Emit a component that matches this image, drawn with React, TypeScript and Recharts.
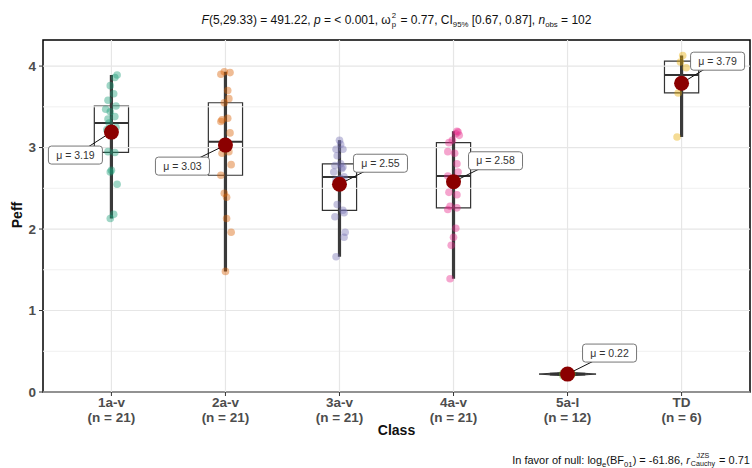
import { ComposedChart, XAxis, YAxis, Scatter, Area, ReferenceLine, ReferenceArea } from 'recharts';

const classes = ['1a-v', '2a-v', '3a-v', '4a-v', '5a-l', 'TD'];
const counts = [21, 21, 21, 21, 12, 6];
const means = [3.19, 3.03, 2.55, 2.58, 0.22, 3.79];
const q1 = [2.94, 2.66, 2.23, 2.26, 0.21, 3.67];
const medians = [3.3, 3.07, 2.64, 2.65, 0.22, 3.89];
const q3 = [3.51, 3.55, 2.8, 3.06, 0.23, 4.06];
const colors = ['#1B9E77', '#D95F02', '#7570B3', '#E7298A', '#66A61E', '#E6AB02'];
const yTicks = [0, 1, 2, 3, 4];
const yMinor = [0.5, 1.5, 2.5, 3.5];

// [horizontal jitter in category units, Peff]
const pts1a = [
  [-0.01, 2.13], [0.02, 2.18], [0.05, 2.55], [-0.01, 2.7], [0.0, 2.72], [0.03, 2.94], [-0.03, 2.95],
  [0.01, 3.15], [-0.04, 3.22], [0.04, 3.25], [-0.02, 3.3], [-0.03, 3.35], [0.03, 3.38], [-0.01, 3.44],
  [-0.05, 3.47], [0.04, 3.51], [-0.03, 3.58], [0.02, 3.66], [-0.01, 3.76], [0.03, 3.86], [0.05, 3.89],
];
const pts2a = [
  [0.0, 1.48], [0.05, 1.96], [0.01, 2.13], [0.01, 2.39], [-0.01, 2.44], [-0.04, 2.66], [0.05, 2.79],
  [0.03, 2.95], [-0.03, 2.93], [0.02, 3.03], [-0.02, 3.07], [0.04, 3.18], [-0.04, 3.32], [-0.03, 3.34],
  [0.02, 3.36], [-0.01, 3.55], [0.03, 3.6], [0.02, 3.7], [-0.04, 3.9], [0.04, 3.92], [-0.01, 3.93],
];
const pts3a = [
  [-0.03, 1.66], [0.04, 1.9], [0.05, 1.96], [-0.04, 2.15], [0.04, 2.2], [0.03, 2.23], [-0.02, 2.3],
  [0.02, 2.55], [-0.03, 2.6], [0.01, 2.62], [0.04, 2.64], [-0.05, 2.7], [0.02, 2.74], [0.03, 2.76],
  [-0.04, 2.78], [0.01, 2.8], [-0.02, 2.9], [-0.03, 2.98], [0.03, 2.98], [0.01, 3.04], [0.0, 3.09],
];
const pts4a = [
  [-0.03, 1.39], [-0.02, 1.8], [0.0, 1.9], [0.02, 2.01], [-0.05, 2.24], [0.03, 2.26], [-0.03, 2.28],
  [0.03, 2.42], [-0.04, 2.45], [0.02, 2.55], [-0.05, 2.65], [0.04, 2.7], [0.03, 2.8], [0.01, 2.93],
  [-0.05, 2.95], [-0.04, 3.06], [-0.01, 3.09], [0.05, 3.15], [0.02, 3.17], [0.04, 3.19], [0.03, 3.2],
];
const pts5a = [
  [-0.04, 0.2], [0.03, 0.21], [-0.02, 0.21], [0.01, 0.22], [-0.03, 0.22], [0.04, 0.22], [0.0, 0.22],
  [-0.01, 0.22], [0.02, 0.23], [-0.04, 0.23], [0.03, 0.23], [0.0, 0.24],
];
const ptsTD = [[-0.04, 3.13], [-0.03, 3.67], [-0.02, 3.8], [0.04, 3.98], [-0.01, 4.05], [0.01, 4.13]];
const groups = [pts1a, pts2a, pts3a, pts4a, pts5a, ptsTD];

// violin outline for 5a-l: [offset from category, low, high]
const violin5a = [
  [-0.25, 0.22, 0.22], [-0.18, 0.213, 0.227], [-0.1, 0.206, 0.234], [0, 0.198, 0.242],
  [0.1, 0.206, 0.234], [0.18, 0.213, 0.227], [0.25, 0.22, 0.22],
];

// label box offsets from the mean point (px)
const labelOffsets = [[-36, 23], [-43, 21], [41, -21], [42, -21], [42, -21], [36, -22]];

const font = '"Liberation Sans", Arial, sans-serif';
const boxHalf = 0.15;

const meanData = means.map((m, i) => ({ x: i + 1, y: m, i }));
const lensData = violin5a.map(([dx, lo, hi]) => ({ x: 5 + dx, band: [lo, hi] }));

const MeanMark = (props: any) => {
  const { cx, cy, payload } = props;
  const [ox, oy] = labelOffsets[payload.i];
  const bx = cx + ox;
  const by = cy + oy;
  return (
    <g>
      <line x1={cx} y1={cy} x2={bx} y2={by} stroke="#111" strokeWidth={1} />
      <circle cx={cx} cy={cy} r={7.5} fill="#8B0000" />
      <rect x={bx - 27} y={by - 9} width={54} height={18} rx={3} fill="#fff" stroke="#666" strokeWidth={0.9} />
      <text x={bx} y={by} dy="0.35em" textAnchor="middle" fontSize={10.5} fill="#333" fontFamily={font}>
        {'\u03bc = ' + means[payload.i].toFixed(2)}
      </text>
    </g>
  );
};

const ClassTick = (props: any) => {
  const { x, y, payload } = props;
  const i = payload.value - 1;
  return (
    <text x={x} y={y} textAnchor="middle" fill="#4D4D4D" fontWeight="bold" fontSize={13.5} fontFamily={font}>
      <tspan x={x} dy="0.7em">{classes[i]}</tspan>
      <tspan x={x} dy="1.1em">{'(n = ' + counts[i] + ')'}</tspan>
    </text>
  );
};

const Stack = ({ sup, sub }: { sup: string; sub: string }) => (
  <span
    style={{
      display: 'inline-flex',
      flexDirection: 'column',
      verticalAlign: 'middle',
      fontSize: '0.65em',
      lineHeight: 1.1,
      margin: '0 1px',
      textAlign: 'center',
    }}
  >
    <span>{sup}</span>
    <span>{sub}</span>
  </span>
);

export default function App() {
  return (
    <div style={{ position: 'absolute', left: 0, top: 0, width: 752, height: 468, fontFamily: font, background: '#fff' }}>
      <ComposedChart width={752} height={468} margin={{ top: 40, right: 2, bottom: 0, left: 0 }}>
        <XAxis
          dataKey="x"
          type="number"
          domain={[0.4, 6.6]}
          ticks={[1, 2, 3, 4, 5, 6]}
          allowDataOverflow
          height={76}
          axisLine={false}
          tickLine={{ stroke: '#333' }}
          tickSize={4}
          tickMargin={2}
          tick={<ClassTick />}
        />
        <YAxis
          dataKey="y"
          type="number"
          domain={[0, 4.32]}
          ticks={yTicks}
          allowDataOverflow
          width={43}
          axisLine={false}
          tickLine={{ stroke: '#333' }}
          tickSize={4}
          tickMargin={3}
          tick={{ fill: '#4D4D4D', fontSize: 13.5, fontWeight: 'bold', fontFamily: font }}
        />
        {yMinor.map((v) => (
          <ReferenceLine key={'mn' + v} y={v} stroke="#F0F0F0" strokeWidth={1} />
        ))}
        {yTicks.map((v) => (
          <ReferenceLine key={'mj' + v} y={v} stroke="#E6E6E6" strokeWidth={1.2} />
        ))}
        {classes.map((c, i) => (
          <ReferenceLine key={'vx' + c} x={i + 1} stroke="#E6E6E6" strokeWidth={1.2} />
        ))}
        {groups.map((g, gi) => (
          <Scatter
            key={'pts' + gi}
            data={g.map(([dx, y]) => ({ x: gi + 1 + dx, y }))}
            isAnimationActive={false}
            shape={(p: any) => <circle cx={p.cx} cy={p.cy} r={3.8} fill={colors[gi]} fillOpacity={0.42} />}
          />
        ))}
        {classes.map((c, i) => (
          <ReferenceArea
            key={'box' + c}
            x1={i + 1 - boxHalf}
            x2={i + 1 + boxHalf}
            y1={q1[i]}
            y2={q3[i]}
            fill="none"
            fillOpacity={0}
            stroke="#333"
            strokeWidth={1.2}
          />
        ))}
        {classes.map((c, i) => (
          <ReferenceLine
            key={'med' + c}
            segment={[
              { x: i + 1 - boxHalf, y: medians[i] },
              { x: i + 1 + boxHalf, y: medians[i] },
            ]}
            stroke="#333"
            strokeWidth={2}
          />
        ))}
        {groups.map((g, gi) =>
          gi === 4 ? null : (
            <ReferenceLine
              key={'vio' + gi}
              segment={[
                { x: gi + 1, y: Math.min(...g.map((p) => p[1])) },
                { x: gi + 1, y: Math.max(...g.map((p) => p[1])) },
              ]}
              stroke="#3A3A3A"
              strokeWidth={3.2}
            />
          )
        )}
        <Area
          data={lensData}
          dataKey="band"
          type="monotone"
          stroke="#333"
          strokeWidth={1}
          fill="#555"
          fillOpacity={0.85}
          isAnimationActive={false}
          dot={false}
          activeDot={false}
        />
        <Scatter data={meanData} isAnimationActive={false} shape={<MeanMark />} />
        <ReferenceArea x1={0.4} x2={6.6} y1={0} y2={4.32} fill="none" fillOpacity={0} stroke="#000" strokeWidth={1.5} />
      </ComposedChart>

      <div
        style={{
          position: 'absolute',
          left: 43,
          width: 707,
          top: 11,
          textAlign: 'center',
          fontSize: 12,
          color: '#111',
          lineHeight: '18px',
          whiteSpace: 'nowrap',
        }}
      >
        <i>F</i>(5,29.33) = 491.22, <i>p</i> = &lt; 0.001, ω<Stack sup="2" sub="p" /> = 0.77, CI
        <sub style={{ fontSize: '0.65em' }}>95%</sub> [0.67, 0.87], <i>n</i>
        <sub style={{ fontSize: '0.65em' }}>obs</sub> = 102
      </div>

      <div
        style={{
          position: 'absolute',
          left: 0,
          top: 215,
          transform: 'translate(-50%, -50%) rotate(-90deg)',
          marginLeft: 17,
          fontSize: 14,
          fontWeight: 'bold',
          color: '#111',
          whiteSpace: 'nowrap',
        }}
      >
        Peff
      </div>

      <div
        style={{
          position: 'absolute',
          left: 43,
          width: 707,
          top: 422,
          textAlign: 'center',
          fontSize: 14,
          fontWeight: 'bold',
          color: '#111',
        }}
      >
        Class
      </div>

      <div
        style={{
          position: 'absolute',
          right: 2,
          top: 452,
          fontSize: 11,
          color: '#111',
          whiteSpace: 'nowrap',
          lineHeight: '16px',
        }}
      >
        In favor of null: log<sub style={{ fontSize: '0.7em' }}>e</sub>(BF<sub style={{ fontSize: '0.7em' }}>01</sub>) = -61.86,{' '}
        <i>r</i>
        <Stack sup="JZS" sub="Cauchy" /> = 0.71
      </div>
    </div>
  );
}
